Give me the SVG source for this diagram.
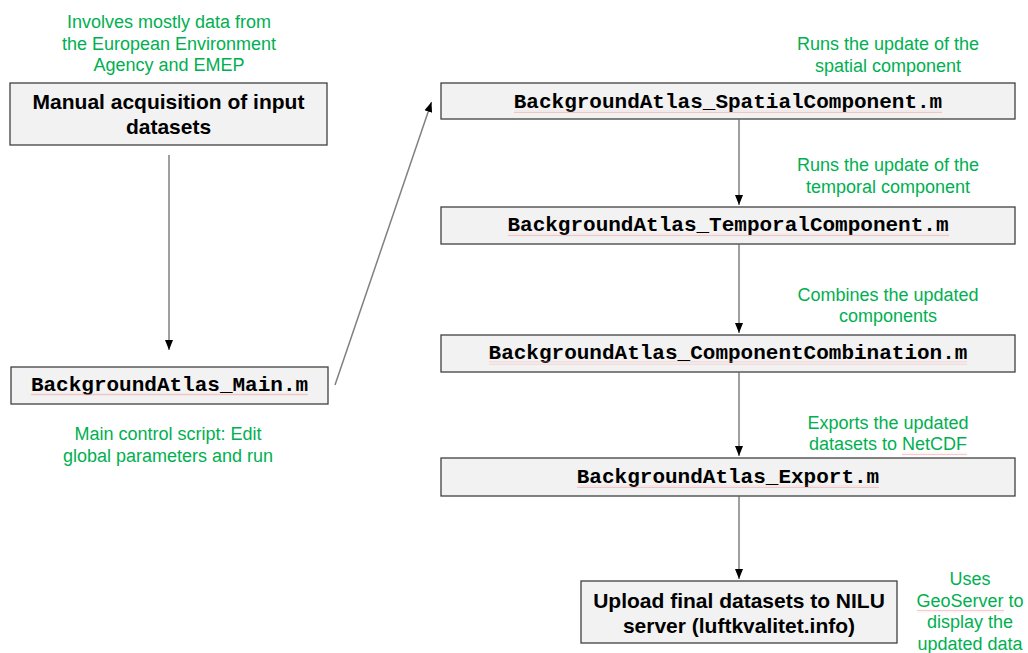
<svg xmlns="http://www.w3.org/2000/svg" width="1028" height="653" viewBox="0 0 1028 653">
<style>
.box{fill:#f2f2f2;stroke:#404040;stroke-width:1.3}
.bold{font-family:"Liberation Sans",Arial,sans-serif;font-weight:bold;font-size:21px;fill:#000;text-anchor:middle}
.mono{font-family:"Liberation Mono","Courier New",monospace;font-weight:bold;font-size:21px;fill:#000;text-anchor:middle}
.note{font-family:"Liberation Sans",Arial,sans-serif;font-size:18px;fill:#00b050;text-anchor:middle}
.conn{stroke:#808080;stroke-width:1.5;fill:none;marker-end:url(#arr)}
.sq{fill:url(#squig)}
</style>
<defs>
<marker id="arr" markerUnits="userSpaceOnUse" markerWidth="10" markerHeight="10" viewBox="0 0 10 10" refX="10" refY="5" orient="auto">
<path d="M0,1 L10,5 L0,9 Z" fill="#000"/>
</marker>
<pattern id="squig" width="2" height="3" patternUnits="userSpaceOnUse">
<path d="M0,2.5 L1,0.8 L2,2.5" stroke="#f3a3a3" stroke-width="0.6" fill="none"/>
</pattern>
</defs>
<rect width="1028" height="653" fill="#fff"/>

<g id="connectors">
<line class="conn" x1="169" y1="155" x2="169" y2="350"/>
<line class="conn" x1="335" y1="385" x2="431.5" y2="102"/>
<line class="conn" x1="739" y1="119.5" x2="739" y2="205"/>
<line class="conn" x1="739" y1="244.5" x2="739" y2="333"/>
<line class="conn" x1="739" y1="372.5" x2="739" y2="456"/>
<line class="conn" x1="739" y1="496.5" x2="739" y2="579"/>
</g>

<g id="note-acquisition">
<text class="note" x="169" y="28">Involves mostly data from</text>
<text class="note" x="169" y="50">the European Environment</text>
<text class="note" x="169" y="71">Agency and EMEP</text>
</g>

<g id="node-acquisition">
<rect class="box" x="10" y="83" width="317" height="62"/>
<text class="bold" x="168.5" y="109">Manual acquisition of input</text>
<text class="bold" x="168.5" y="134">datasets</text>
</g>

<g id="node-main">
<rect class="box" x="11" y="367" width="317" height="37"/>
<text class="mono" x="169.5" y="391">BackgroundAtlas_Main.m</text>
<rect class="sq" x="31" y="393" width="277" height="3"/>
</g>

<g id="note-main">
<text class="note" x="168" y="440">Main control script: Edit</text>
<text class="note" x="168" y="462">global parameters and run</text>
</g>

<g id="note-spatial">
<text class="note" x="888" y="50">Runs the update of the</text>
<text class="note" x="888" y="72">spatial component</text>
</g>

<g id="node-spatial">
<rect class="box" x="441" y="83" width="574" height="36"/>
<text class="mono" x="728" y="107.5">BackgroundAtlas_SpatialComponent.m</text>
<rect class="sq" x="514" y="110" width="428" height="3"/>
</g>

<g id="note-temporal">
<text class="note" x="888" y="171">Runs the update of the</text>
<text class="note" x="888" y="193">temporal component</text>
</g>

<g id="node-temporal">
<rect class="box" x="441" y="207" width="574" height="37"/>
<text class="mono" x="728" y="231">BackgroundAtlas_TemporalComponent.m</text>
<rect class="sq" x="508" y="233.5" width="441" height="3"/>
</g>

<g id="note-combination">
<text class="note" x="888" y="301">Combines the updated</text>
<text class="note" x="888" y="322">components</text>
</g>

<g id="node-combination">
<rect class="box" x="441" y="335" width="574" height="37"/>
<text class="mono" x="728" y="359">BackgroundAtlas_ComponentCombination.m</text>
<rect class="sq" x="489" y="361.5" width="478" height="3"/>
</g>

<g id="note-export">
<text class="note" x="888" y="429">Exports the updated</text>
<text class="note" x="888" y="450">datasets to NetCDF</text>
<rect class="sq" x="902" y="452.5" width="65" height="3"/>
</g>

<g id="node-export">
<rect class="box" x="441" y="458" width="574" height="38"/>
<text class="mono" x="728" y="482.5">BackgroundAtlas_Export.m</text>
<rect class="sq" x="577" y="485" width="302" height="3"/>
</g>

<g id="node-upload">
<rect class="box" x="581" y="581" width="316" height="62"/>
<text class="bold" x="739" y="607.5">Upload final datasets to NILU</text>
<text class="bold" x="739" y="632.5">server (luftkvalitet.info)</text>
</g>

<g id="note-upload">
<text class="note" x="970" y="585">Uses</text>
<text class="note" x="970" y="607">GeoServer to</text>
<text class="note" x="970" y="628">display the</text>
<text class="note" x="970" y="650">updated data</text>
<rect class="sq" x="917" y="609.5" width="87" height="3"/>
</g>
</svg>
